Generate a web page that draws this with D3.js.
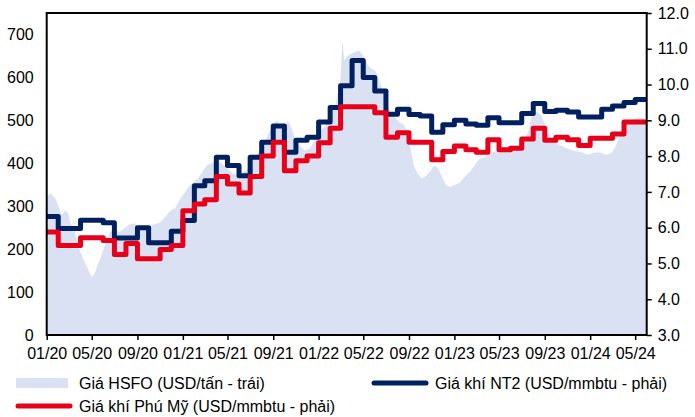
<!DOCTYPE html>
<meta charset="utf-8">
<script src="https://d3js.org/d3.v7.js"></script>
<style>
  body { margin: 0; background: #fff; }
  text { font-family: "Liberation Sans", Arial, sans-serif; }
</style>
<div id="chart"></div>
<script>

// monthly gas prices (USD/mmbtu), one value per month
const months = [
  "2020-01","2020-02","2020-03","2020-04","2020-05","2020-06","2020-07","2020-08","2020-09","2020-10","2020-11","2020-12",
  "2021-01","2021-02","2021-03","2021-04","2021-05","2021-06","2021-07","2021-08","2021-09","2021-10","2021-11","2021-12",
  "2022-01","2022-02","2022-03","2022-04","2022-05","2022-06","2022-07","2022-08","2022-09","2022-10","2022-11","2022-12",
  "2023-01","2023-02","2023-03","2023-04","2023-05","2023-06","2023-07","2023-08","2023-09","2023-10","2023-11","2023-12",
  "2024-01","2024-02","2024-03","2024-04","2024-05"
];
const nt2 = [
  6.31, 5.98, 5.98, 6.21, 6.21, 6.14, 5.71, 5.71, 6.00, 5.58, 5.58, 5.90,
  6.20, 7.17, 7.31, 7.97, 7.74, 7.45, 7.97, 8.39, 8.84, 8.11, 8.44, 8.53,
  8.95, 9.36, 9.97, 10.67, 10.20, 9.82, 9.17, 9.31, 9.16, 9.12, 8.67, 8.88,
  9.00, 8.90, 8.86, 9.07, 8.93, 8.93, 9.19, 9.47, 9.25, 9.28, 9.23, 9.09,
  9.09, 9.31, 9.40, 9.50, 9.58
];
const phuMy = [
  5.88, 5.50, 5.50, 5.72, 5.72, 5.64, 5.25, 5.56, 5.13, 5.13, 5.39, 5.50,
  6.47, 6.66, 6.78, 7.43, 7.22, 6.97, 7.43, 8.00, 8.39, 7.59, 7.87, 8.00,
  8.37, 8.78, 9.38, 9.38, 9.38, 9.21, 8.53, 8.65, 8.39, 8.39, 7.90, 8.13,
  8.28, 8.18, 8.11, 8.46, 8.18, 8.22, 8.48, 8.78, 8.44, 8.53, 8.46, 8.30,
  8.50, 8.50, 8.62, 8.95, 8.95
];

// HSFO price (USD/tan)
const hsfoDates = [
  "2020-01-01","2020-01-10","2020-01-18","2020-01-26","2020-02-01","2020-02-06","2020-02-11","2020-02-19","2020-02-27",
  "2020-03-05","2020-03-13","2020-03-21","2020-03-29","2020-04-07","2020-04-15","2020-04-23","2020-05-01","2020-05-06",
  "2020-05-12","2020-05-17","2020-05-23","2020-05-31","2020-06-08","2020-06-19","2020-07-02","2020-07-15","2020-07-29",
  "2020-08-12","2020-08-25","2020-09-08","2020-09-21","2020-10-05","2020-10-18","2020-11-01","2020-11-14","2020-11-27",
  "2020-12-11","2020-12-24","2021-01-05","2021-01-16","2021-01-29","2021-02-11","2021-02-23","2021-03-06","2021-03-19",
  "2021-04-02","2021-04-15","2021-04-29","2021-05-12","2021-05-26","2021-06-08","2021-06-21","2021-07-05","2021-07-18",
  "2021-08-01","2021-08-15","2021-08-28","2021-09-11","2021-09-19","2021-09-30","2021-10-10","2021-10-21","2021-11-01",
  "2021-11-12","2021-11-25","2021-12-09","2021-12-22","2022-01-05","2022-01-18","2022-02-02","2022-02-14","2022-02-21",
  "2022-03-01","2022-03-06","2022-03-11","2022-03-19","2022-03-30","2022-04-10","2022-04-21","2022-05-02","2022-05-12",
  "2022-05-23","2022-06-03","2022-06-14","2022-06-25","2022-07-05","2022-07-16","2022-07-27","2022-08-07","2022-08-18",
  "2022-08-29","2022-09-06","2022-09-14","2022-09-25","2022-10-05","2022-10-16","2022-10-27","2022-11-07","2022-11-18",
  "2022-11-28","2022-12-09","2022-12-20","2023-01-03","2023-01-16","2023-01-30","2023-02-12","2023-02-24","2023-03-09",
  "2023-03-26","2023-04-11","2023-04-27","2023-05-16","2023-06-04","2023-06-20","2023-07-06","2023-07-17","2023-07-28",
  "2023-08-11","2023-08-24","2023-09-07","2023-09-20","2023-10-06","2023-10-22","2023-11-08","2023-11-24","2023-12-10",
  "2023-12-26","2024-01-11","2024-01-28","2024-02-13","2024-02-28","2024-03-10","2024-03-21","2024-04-01","2024-04-17",
  "2024-05-03","2024-05-19","2024-06-01"
];
const hsfoValues = [
  320, 330, 325, 315, 300, 290, 280, 290, 285,
  260, 250, 225, 200, 180, 165, 150, 135, 140,
  150, 165, 175, 195, 215, 240, 245, 240, 250,
  258, 260, 250, 245, 255, 258, 262, 275, 288,
  295, 315, 330, 345, 355, 365, 380, 395, 400,
  405, 400, 390, 378, 372, 376, 385, 405, 420,
  440, 460, 485, 500, 490, 480, 500, 480, 450,
  440, 430, 435, 455, 475, 485, 515, 530, 560,
  600, 688, 640, 650, 655, 660, 662, 650, 630,
  620, 615, 590, 565, 535, 515, 505, 495, 490,
  470, 430, 395, 375, 365, 370, 380, 395, 390,
  370, 350, 345, 350, 355, 370, 380, 395, 410,
  415, 425, 430, 435, 430, 440, 445, 470, 510,
  520, 510, 475, 455, 445, 438, 432, 428, 425,
  420, 425, 425, 420, 425, 440, 465, 490, 500,
  505, 505, 500
];

const leftTicks = [0, 100, 200, 300, 400, 500, 600, 700];
const rightTicks = [3, 4, 5, 6, 7, 8, 9, 10, 11, 12];
const xTickLabels = ["01/20","05/20","09/20","01/21","05/21","09/21","01/22","05/22","09/22","01/23","05/23","09/23","01/24","05/24"];

const legendItems = [
  {name: "Giá HSFO (USD/tấn - trái)", kind: "area", color: "#d9e1f2"},
  {name: "Giá khí NT2 (USD/mmbtu - phải)", kind: "line", color: "#002060"},
  {name: "Giá khí Phú Mỹ (USD/mmbtu - phải)", kind: "line", color: "#e60019"}
];

// layout
const W = 695, H = 417;
const plot = {left: 46.7, right: 646.7, top: 13, bottom: 335};
const fontSize = "16px";

const parseDay = d3.timeParse("%Y-%m-%d");
const parseMonth = d3.timeParse("%Y-%m");
const parseTick = d3.timeParse("%m/%y");

const xStart = parseMonth(months[0]);
const xEnd = d3.timeMonth.offset(parseMonth(months[months.length - 1]), 1);

const x = d3.scaleTime().domain([xStart, xEnd]).range([plot.left, plot.right]);
const yL = d3.scaleLinear().domain([0, 750]).range([plot.bottom, plot.top]);
const yR = d3.scaleLinear().domain([3, 12]).range([plot.bottom, plot.top]);

const svg = d3.select("#chart")
  .append("svg")
    .attr("width", W)
    .attr("height", H);

// HSFO area
const hsfo = hsfoDates.map((d, i) => ({date: parseDay(d), v: hsfoValues[i]}));
svg.append("path")
  .datum(hsfo)
  .attr("fill", legendItems[0].color)
  .attr("d", d3.area()
    .x(d => x(d.date))
    .y0(yL(0))
    .y1(d => yL(d.v)));

// step lines, last month held until the end of the axis
function stepData(vals) {
  const pts = months.map((m, i) => ({date: parseMonth(m), v: vals[i]}));
  pts.push({date: xEnd, v: vals[vals.length - 1]});
  return pts;
}
const stepLine = d3.line()
  .x(d => x(d.date))
  .y(d => yR(d.v))
  .curve(d3.curveStepAfter);

[[nt2, legendItems[1].color], [phuMy, legendItems[2].color]].forEach(([vals, color]) => {
  svg.append("path")
    .datum(stepData(vals))
    .attr("fill", "none")
    .attr("stroke", color)
    .attr("stroke-width", 5)
    .attr("stroke-linejoin", "round")
    .attr("d", stepLine);
});

// frame
svg.append("rect")
  .attr("x", plot.left)
  .attr("y", plot.top)
  .attr("width", plot.right - plot.left)
  .attr("height", plot.bottom - plot.top)
  .attr("fill", "none")
  .attr("stroke", "#000")
  .attr("stroke-width", 2);

// axes
const gL = svg.append("g")
  .attr("transform", `translate(${plot.left},0)`)
  .call(d3.axisLeft(yL).tickValues(leftTicks).tickSize(0).tickPadding(13));

const gR = svg.append("g")
  .attr("transform", `translate(${plot.right},0)`)
  .call(d3.axisRight(yR).tickValues(rightTicks).tickSize(5).tickPadding(6).tickFormat(d3.format(".1f")));

const gX = svg.append("g")
  .attr("transform", `translate(0,${plot.bottom})`)
  .call(d3.axisBottom(x).tickValues(xTickLabels.map(parseTick)).tickSize(5).tickPadding(8)
    .tickFormat(d3.timeFormat("%m/%y")));

[gL, gR, gX].forEach(g => {
  g.select(".domain").remove();
  g.selectAll(".tick line").attr("stroke", "#000").attr("stroke-width", 1.5);
  g.selectAll(".tick text")
    .attr("fill", "#000")
    .style("font-size", fontSize)
    .style("font-family", "'Liberation Sans', Arial, sans-serif");
});

// legend
const legendPos = [
  {x: 16, y: 383},
  {x: 372, y: 383},
  {x: 16, y: 406}
];
legendItems.forEach((item, i) => {
  const p = legendPos[i];
  const g = svg.append("g").attr("transform", `translate(${p.x},${p.y})`);
  if (item.kind === "area") {
    g.append("rect")
      .attr("x", 0).attr("y", -5)
      .attr("width", 52).attr("height", 10)
      .attr("fill", item.color);
  } else {
    g.append("line")
      .attr("x1", 2).attr("x2", 54)
      .attr("y1", 0).attr("y2", 0)
      .attr("stroke", item.color)
      .attr("stroke-width", 5)
      .attr("stroke-linecap", "round");
  }
  g.append("text")
    .attr("x", 63)
    .attr("y", 0)
    .attr("dy", "0.35em")
    .attr("fill", "#000")
    .style("font-size", fontSize)
    .text(item.name);
});

</script>
